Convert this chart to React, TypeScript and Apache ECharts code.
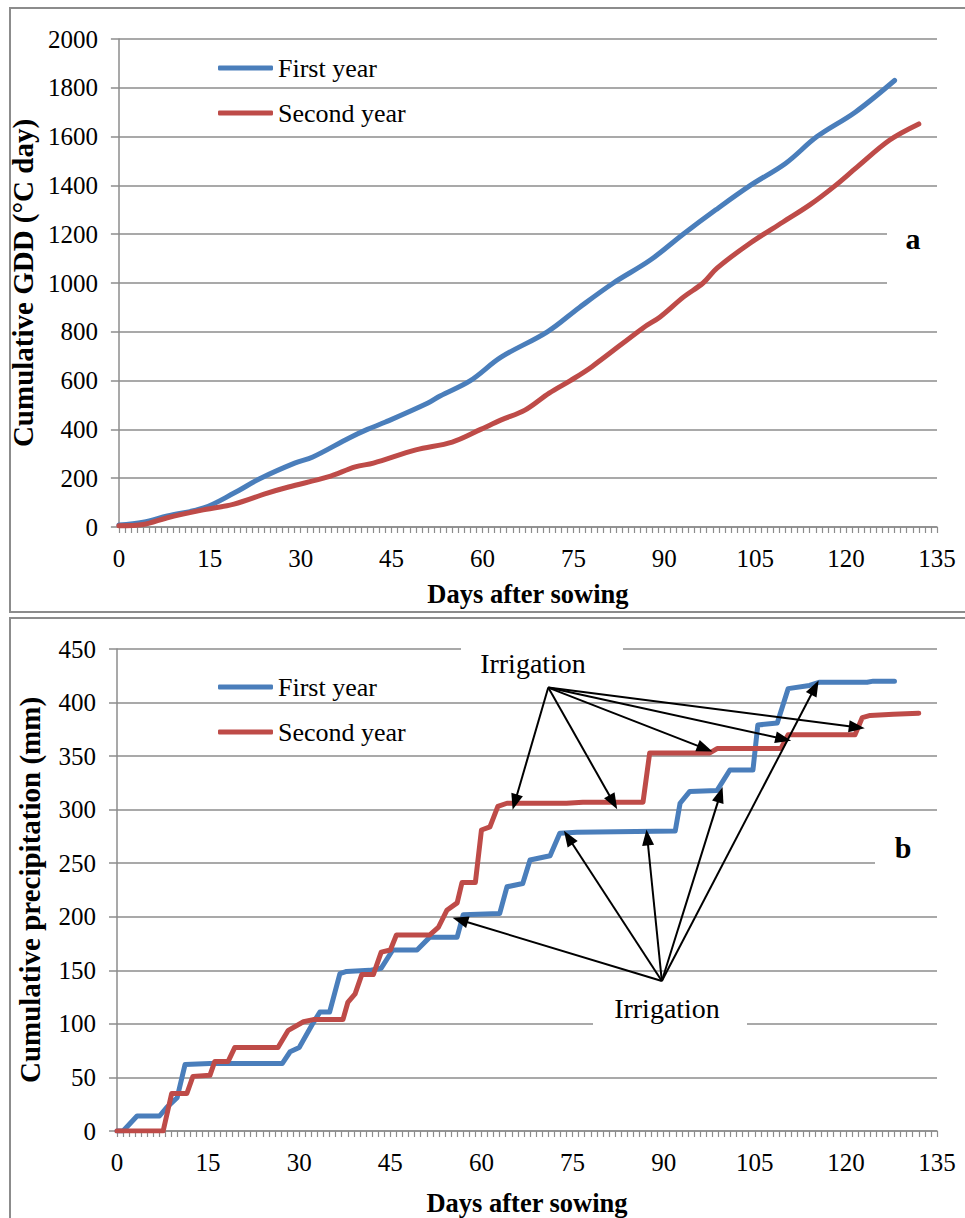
import React, { useEffect, useRef } from "react";
import * as echarts from "echarts";

const FONT = "Liberation Serif";

// Tick labels
const DAY_TICKS = [0, 15, 30, 45, 60, 75, 90, 105, 120, 135];
const GDD_TICKS = [0, 200, 400, 600, 800, 1000, 1200, 1400, 1600, 1800, 2000];
const PRECIP_TICKS = [0, 50, 100, 150, 200, 250, 300, 350, 400, 450];

const SERIES_NAMES = ["First year", "Second year"];

// Panel a: cumulative GDD (day, °C day)
const gddFirstYear: [number, number][] = [
  [0, 8], [4, 20], [8, 45], [14, 78], [19, 139], [23.4, 200], [29, 262], [32, 287],
  [38, 365], [41, 400], [44, 430], [51, 508], [53, 537], [58, 600], [63, 695],
  [70.7, 800], [76, 900], [81.6, 1000], [87.7, 1094], [93.1, 1200], [98.5, 1300],
  [104.2, 1400], [110, 1490], [115.2, 1600], [121.5, 1700], [128, 1830],
];
const gddSecondYear: [number, number][] = [
  [0, 5], [4, 10], [8, 38], [13.5, 68], [19, 94], [24.5, 139], [28, 164], [34.5, 205],
  [39, 246], [42, 262], [49, 316], [55, 348], [59.7, 400], [63, 438], [67, 479],
  [71, 549], [74.5, 600], [78, 656], [86.5, 816], [89.3, 861], [93.2, 943], [96.4, 1000],
  [98.7, 1061], [104.2, 1164], [109.6, 1250], [114, 1320], [118, 1395], [121.8, 1475],
  [127.2, 1586], [132, 1652],
];

// Panel b: cumulative precipitation (day, mm)
const precipFirstYear: [number, number][] = [
  [0, 0], [1, 0], [3.3, 14], [7, 14], [8.2, 22], [9.9, 31], [11.2, 62], [15.3, 63],
  [27.2, 63], [28.5, 74], [30, 78], [32.3, 101], [33.4, 111], [35, 111], [36.7, 147],
  [37.8, 149], [41.6, 150], [43.5, 152], [45.4, 169], [49.4, 169], [51.5, 181], [56, 181],
  [57, 202], [63, 203], [64.2, 228], [66.8, 231], [68, 253], [71.3, 257], [72.9, 278],
  [75.7, 279], [91.9, 280], [92.7, 306], [94.3, 317], [98.8, 318], [100.9, 337],
  [104.7, 337], [105.5, 379], [108.7, 381], [110.5, 413], [114, 416], [115.7, 419],
  [123.5, 419], [124.5, 420], [128, 420],
];
const precipSecondYear: [number, number][] = [
  [0, 0], [7.6, 0], [9, 35], [11.5, 35], [12.5, 51], [15.3, 52], [16.1, 65], [18.3, 65],
  [19.4, 78], [26.5, 78], [28.2, 94], [30.7, 102], [32.3, 104], [37.2, 104], [38, 120],
  [39.2, 128], [40.3, 146], [42.2, 146], [43.5, 167], [45, 169], [46, 183], [51.5, 183],
  [52.9, 190], [54.3, 206], [56, 213], [56.8, 232], [59, 232], [60, 281], [61.4, 284],
  [62.7, 303], [64.2, 306], [74, 306], [76.7, 307], [86.6, 307], [87.7, 353], [97.6, 353],
  [98.8, 357], [109.3, 357], [110.5, 370], [121.5, 370], [122.7, 386], [124, 388],
  [127.8, 389], [132, 390],
];

// Irrigation arrows (from label -> to curve), in data units (day, mm)
const topArrowOrigin: [number, number] = [71, 414];
const topArrowTargets: [number, number][] = [
  [65.5, 307], [81.7, 307], [96.8, 357], [109.7, 366], [121.8, 377],
];
const bottomArrowOrigin: [number, number] = [89.7, 140];
const bottomArrowTargets: [number, number][] = [
  [56.5, 197], [74.3, 274], [87.3, 274], [99.3, 314], [114.9, 414],
];

const BLUE = "#4A7EBB";
const RED = "#BE4B48";
const GRID_GRAY = "#8C8C8C";

function axisX(gridIndex: number, nameGap: number) {
  return {
    type: "value",
    gridIndex,
    min: DAY_TICKS[0],
    max: DAY_TICKS[DAY_TICKS.length - 1],
    interval: DAY_TICKS[1] - DAY_TICKS[0],
    name: "Days after sowing",
    nameLocation: "middle",
    nameGap,
    nameTextStyle: { fontFamily: FONT, fontSize: 26.5, fontWeight: "bold", color: "#000" },
    axisLine: { show: true, onZero: false, lineStyle: { color: GRID_GRAY, width: 1.5 } },
    axisTick: { show: true, length: 6, lineStyle: { color: GRID_GRAY, width: 1.2 } },
    minorTick: { show: true, splitNumber: 15, length: 6, lineStyle: { color: GRID_GRAY, width: 1.2 } },
    splitLine: { show: false },
    axisLabel: { fontFamily: FONT, fontSize: 25, color: "#000", margin: 19, formatter: (v: number) => String(v) },
  };
}

function axisY(gridIndex: number, ticks: number[], name: string, nameGap: number) {
  return {
    type: "value",
    gridIndex,
    min: ticks[0],
    max: ticks[ticks.length - 1],
    interval: ticks[1] - ticks[0],
    name,
    nameLocation: "middle",
    nameGap,
    nameRotate: 90,
    nameTextStyle: { fontFamily: FONT, fontSize: 29, fontWeight: "bold", color: "#000" },
    axisLine: { show: true, lineStyle: { color: GRID_GRAY, width: 1.5 } },
    axisTick: { show: true, length: 8, lineStyle: { color: GRID_GRAY, width: 1.5 } },
    splitLine: { show: true, lineStyle: { color: GRID_GRAY, width: 1.5 } },
    axisLabel: { fontFamily: FONT, fontSize: 25, color: "#000", margin: 21, formatter: (v: number) => String(v) },
  };
}

function lineSeries(name: string, color: string, data: [number, number][], idx: number, extra: any = {}) {
  return {
    type: "line",
    name,
    xAxisIndex: idx,
    yAxisIndex: idx,
    data,
    symbol: "none",
    color,
    lineStyle: { color, width: 5, cap: "round", join: "round" },
    z: 3,
    ...extra,
  };
}

function arrows(origin: [number, number], targets: [number, number][]) {
  return targets.map((t) => [{ coord: origin }, { coord: t }]);
}

export default function App() {
  const ref = useRef<HTMLDivElement>(null);
  useEffect(() => {
    if (!ref.current) return;
    const chart = echarts.init(ref.current, undefined, { renderer: "svg" });
    const legendBase = {
      data: SERIES_NAMES,
      orient: "vertical",
      left: 213,
      itemWidth: 55,
      itemHeight: 5,
      icon: "roundRect",
      itemGap: 19,
      textStyle: { fontFamily: FONT, fontSize: 26, color: "#000", lineHeight: 26 },
    };
    const txt = (text: string, x: number, y: number, size: number, bold = false) => ({
      type: "text",
      x,
      y,
      z: 10,
      style: {
        text,
        fill: "#000",
        fontFamily: FONT,
        fontSize: size,
        fontWeight: bold ? "bold" : "normal",
        align: "center",
        verticalAlign: "middle",
      },
    });
    const white = (x: number, y: number, w: number, h: number) => ({
      type: "rect",
      z: 5,
      shape: { x, y, width: w, height: h },
      style: { fill: "#fff" },
    });
    chart.setOption({
      animation: false,
      backgroundColor: "#fff",
      grid: [
        { left: 118, top: 39, width: 819, height: 488, containLabel: false },
        { left: 117, top: 649, width: 820, height: 482, containLabel: false },
      ],
      xAxis: [axisX(0, 53), axisX(1, 58)],
      yAxis: [
        axisY(0, GDD_TICKS, "Cumulative GDD (°C day)", 74),
        axisY(1, PRECIP_TICKS, "Cumulative precipitation (mm)", 73),
      ],
      legend: [
        { ...legendBase, top: 50 },
        { ...legendBase, top: 669 },
      ],
      series: [
        lineSeries(SERIES_NAMES[0], BLUE, gddFirstYear, 0, { smooth: 0.35 }),
        lineSeries(SERIES_NAMES[1], RED, gddSecondYear, 0, { smooth: 0.35 }),
        lineSeries(SERIES_NAMES[0], BLUE, precipFirstYear, 1),
        lineSeries(SERIES_NAMES[1], RED, precipSecondYear, 1, {
          markLine: {
            silent: true,
            symbol: ["none", "triangle"],
            symbolSize: [12, 16],
            label: { show: false },
            lineStyle: { color: "#000", width: 2, type: "solid" },
            emphasis: { disabled: true },
            z: 6,
            data: [
              ...arrows(topArrowOrigin, topArrowTargets),
              ...arrows(bottomArrowOrigin, bottomArrowTargets),
            ],
          },
        }),
      ],
      graphic: [
        {
          type: "rect",
          z: 0,
          shape: { x: 10, y: 8, width: 970, height: 604 },
          style: { fill: "none", stroke: "#8C8C8C", lineWidth: 2 },
        },
        {
          type: "rect",
          z: 0,
          shape: { x: 10, y: 618, width: 970, height: 620 },
          style: { fill: "none", stroke: "#8C8C8C", lineWidth: 2 },
        },
        white(887, 225, 52, 66),
        white(875, 830, 64, 40),
        white(461, 641, 162, 40),
        white(593, 990, 154, 44),
        txt("a", 913, 238, 30, true),
        txt("b", 903, 847, 30, true),
        txt("Irrigation", 533, 663, 28),
        txt("Irrigation", 667, 1008, 28),
      ],
    });
    return () => chart.dispose();
  }, []);
  return (
    <div
      ref={ref}
      style={{ position: "absolute", left: 0, top: 0, width: 965, height: 1218 }}
    />
  );
}
